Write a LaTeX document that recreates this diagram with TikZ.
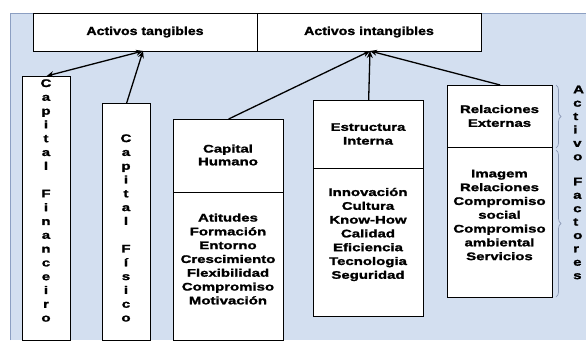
\documentclass[tikz,border=0pt]{standalone}
\usepackage{fontspec}
\setmainfont{Liberation Sans}[FakeStretch=1.36,BoldFeatures={FakeBold=1.6}]
\newfontfamily\headfont{Liberation Sans}[FakeStretch=1.22,BoldFeatures={FakeBold=1.6}]
\usetikzlibrary{arrows.meta,decorations.pathreplacing}
\definecolor{panel}{HTML}{D3DFF0}
\definecolor{paneledge}{HTML}{8C9FC2}
\definecolor{bracecol}{HTML}{8A98B4}
\begin{document}
\begin{tikzpicture}[x=1pt,y=-1pt,
  box/.style={draw=black,line width=1.3pt,fill=white,anchor=north west,inner sep=0pt},
  txt/.style={font=\bfseries\fontsize{11}{13.8}\selectfont,align=center,inner sep=0pt},
  headtxt/.style={font=\headfont\bfseries\fontsize{11.6}{14}\selectfont,inner sep=0pt},
  sidetxt/.style={font=\bfseries\fontsize{11}{13.4}\selectfont,align=left,inner sep=0pt,anchor=west},
  link/.style={line width=1.3pt,-{Stealth[length=7pt,width=6pt]}},
  sidebrace/.style={draw=bracecol,line width=0.7pt,decorate,decoration={brace,amplitude=5pt}}]
\useasboundingbox (0,0) rectangle (586,340);
% background panel
\fill[white] (0,0) rectangle (586,340);
\draw[paneledge,fill=panel,line width=1pt] (10,340) -- (10,13) -- (586,13) -- (586,340);

% top level boxes
\node[box,minimum width=224pt,minimum height=38pt] (tang) at (33,13) {};
\node[box,minimum width=224pt,minimum height=38pt] (intang) at (257,13) {};
\node[headtxt] (tangT) at (145,32) {Activos tangibles};
\node[headtxt] (intangT) at (369,32) {Activos intangibles};

% tangible capital columns
\node[box,minimum width=48pt,minimum height=264pt] (fin) at (22,76) {};
\node[txt] (finT) at (46,200.5) {C\\a\\p\\i\\t\\a\\l\\[13.8pt]F\\i\\n\\a\\n\\c\\e\\i\\r\\o};
\node[box,minimum width=48pt,minimum height=237pt] (fis) at (102,103) {};
\node[txt] (fisT) at (126,228) {C\\a\\p\\i\\t\\a\\l\\[13.8pt]F\\í\\s\\i\\c\\o};

% Capital Humano
\node[box,minimum width=110pt,minimum height=73pt] (hum) at (173,119) {};
\node[box,minimum width=110pt,minimum height=148pt] (humI) at (173,192) {};
\node[txt] (humT) at (228,155) {Capital\\[-1pt]Humano};
\node[txt] (humL) at (228,259) {Atitudes\\Formación\\Entorno\\Crescimiento\\Flexibilidad\\Compromiso\\Motivación};

% Estructura Interna
\node[box,minimum width=110pt,minimum height=68pt] (est) at (313,100) {};
\node[box,minimum width=110pt,minimum height=148pt] (estI) at (313,168) {};
\node[txt] (estT) at (368,134) {Estructura\\Interna};
\node[txt] (estL) at (368,234.5) {Innovación\\Cultura\\Know-How\\Calidad\\Eficiencia\\Tecnologia\\Seguridad};

% Relaciones Externas
\node[box,minimum width=105pt,minimum height=62pt] (rel) at (447,85) {};
\node[box,minimum width=105pt,minimum height=150pt] (relI) at (447,147) {};
\node[txt] (relT) at (499.5,116) {Relaciones\\Externas};
\node[txt] (relL) at (499.5,215) {Imagem\\Relaciones\\Compromiso\\social\\Compromiso\\ambiental\\Servicios};

% connectors
\coordinate (tangIn) at (143,51);
\coordinate (intangIn) at (370,51);
\draw[link,{Stealth[length=7pt,width=6pt]}-{Stealth[length=7pt,width=6pt]}] (fin.north) -- (tangIn);
\draw[link] (fis.north) -- (tangIn);
\draw[link] (hum.north) -- (intangIn);
\draw[link] (est.north) -- (intangIn);
\draw[link] (rel.north) -- (intangIn);

% side braces and labels
\draw[sidebrace] (556,85) -- (556,148);
\draw[sidebrace] (556,150) -- (556,297);
\node[sidetxt] (actL) at (573,123) {A\\c\\t\\i\\v\\o};
\node[sidetxt] (facL) at (573,228.5) {F\\a\\c\\t\\o\\r\\e\\s};
\end{tikzpicture}
\end{document}
